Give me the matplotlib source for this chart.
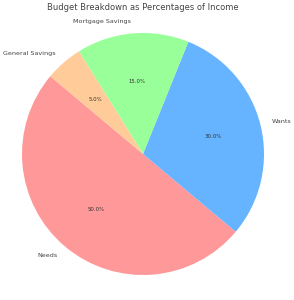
import matplotlib.pyplot as plt

labels = ['Needs', 'Wants', 'Mortgage Savings', 'General Savings']
sizes = [50, 30, 15, 5]
colors = ['#ff9999', '#66b3ff', '#99ff99', '#ffcc99']

fig = plt.figure(figsize=(2.94, 3.0), dpi=100)
# pie centre about (143, 154) px, radius about 121 px
r = 121
half = 1.15 * r
ax = fig.add_axes([(143 - half) / 294, (300 - 154 - half) / 300,
                   2 * half / 294, 2 * half / 300])

wedges, texts, autotexts = ax.pie(sizes, labels=labels, colors=colors,
                                  autopct='%1.1f%%', startangle=140,
                                  textprops={'fontsize': 4.6, 'color': '#444444'})
for t in autotexts:
    t.set_fontsize(3.9)
    t.set_color('#333333')
ax.set_xlim(-1.15, 1.15)
ax.set_ylim(-1.15, 1.15)
ax.set_aspect('equal', adjustable='datalim')

fig.text(142.5 / 294, 1 - 7.5 / 300, 'Budget Breakdown as Percentages of Income',
         fontsize=6.0, color='#444444', ha='center', va='center')

plt.savefig('out.png', dpi=100)
